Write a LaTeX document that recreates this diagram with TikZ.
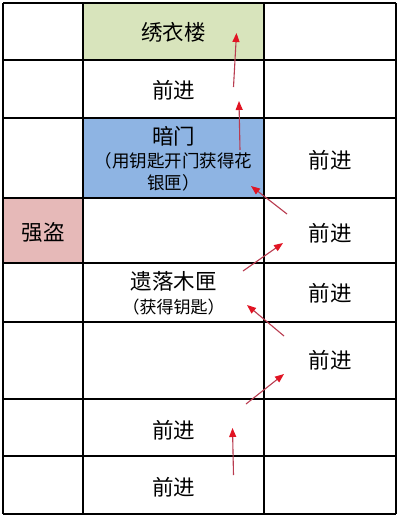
\documentclass[tikz,border=0pt]{standalone}
\usepackage{fontspec}
\newfontfamily\cjk{Noto Sans CJK SC}
\usetikzlibrary{arrows.meta}
\definecolor{cellgreen}{RGB}{216,228,188}
\definecolor{cellblue}{RGB}{142,180,227}
\definecolor{cellpink}{RGB}{230,185,184}
\definecolor{shaftred}{RGB}{185,60,80}
\definecolor{headred}{RGB}{225,20,35}
\tikzset{
  grid line/.style={line width=1.3pt, black},
  big/.style={font=\cjk\fontsize{21.5}{24}\selectfont, inner sep=0pt},
  small/.style={font=\cjk\fontsize{17.5}{20}\selectfont, inner sep=0pt},
  tiny/.style={font=\cjk\fontsize{17}{20}\selectfont, inner sep=0pt},
  redarrow/.style={draw=shaftred, line width=1.1pt, -{Triangle[length=9pt,width=7pt,color=headred]}}
}
\begin{document}
\begin{tikzpicture}[x=1pt,y=-1pt]
\useasboundingbox (0,0) rectangle (400,517);
\fill[white] (0,0) rectangle (400,517);
% coloured cells
\fill[cellgreen] (83,3) rectangle (264,60);
\fill[cellblue] (83,118) rectangle (264,198);
\fill[cellpink] (3,198) rectangle (83,263);
% grid
\foreach \y in {3,60,118,198,263,322,399,456,514}
  \draw[grid line] (3,\y) -- (396,\y);
\foreach \x in {3,83,264,396}
  \draw[grid line] (\x,3) -- (\x,514);
% texts
\node[big] (xiuyi) at (173.5,32) {绣衣楼};
\node[big] (m1) at (173.5,90) {前进};
\node[big] (anmen) at (173.5,136) {暗门};
\node[small] (anmen2) at (173.5,161) {（用钥匙开门获得花};
\node[small] (anmen3) at (173.5,183) {银匣）};
\node[big] (qiangdao) at (43,232) {强盗};
\node[big] (yiluo) at (173.5,281) {遗落木匣};
\node[tiny] (yiluo2) at (173.5,307) {（获得钥匙）};
\node[big] (m2) at (173.5,430) {前进};
\node[big] (m3) at (173.5,487) {前进};
\node[big] (r1) at (330,160) {前进};
\node[big] (r2) at (330,233) {前进};
\node[big] (r3) at (330,293) {前进};
\node[big] (r4) at (330,360) {前进};
% arrow end points
\coordinate (a1s) at (233.5,87);  \coordinate (a1e) at (236.5,33);
\coordinate (a2s) at (240,150);   \coordinate (a2e) at (239,101);
\coordinate (a3s) at (287,214);   \coordinate (a3e) at (251,186);
\coordinate (a4s) at (243,271);   \coordinate (a4e) at (283,243);
\coordinate (a5s) at (284,336);   \coordinate (a5e) at (247,305);
\coordinate (a6s) at (246,404);   \coordinate (a6e) at (284,374);
\coordinate (a7s) at (233.5,475); \coordinate (a7e) at (232.5,428);
\draw[redarrow] (a1s) -- (a1e);
\draw[redarrow] (a2s) -- (a2e);
\draw[redarrow] (a3s) -- (a3e);
\draw[redarrow] (a4s) -- (a4e);
\draw[redarrow] (a5s) -- (a5e);
\draw[redarrow] (a6s) -- (a6e);
\draw[redarrow] (a7s) -- (a7e);
\end{tikzpicture}
\end{document}
